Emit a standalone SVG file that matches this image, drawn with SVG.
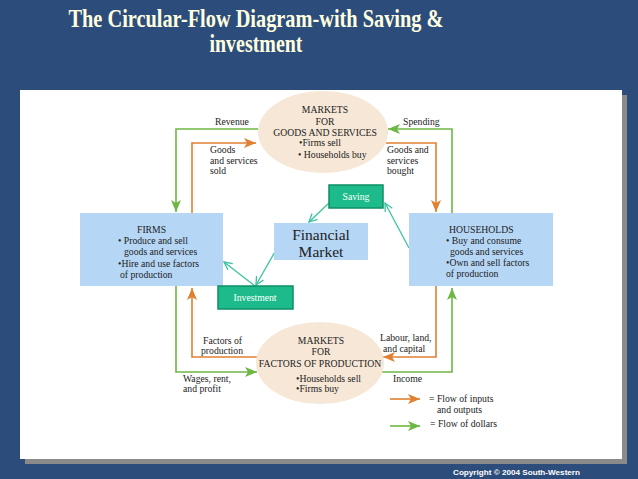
<svg xmlns="http://www.w3.org/2000/svg" width="638" height="479" viewBox="0 0 638 479">
<style>
.t{font-family:"Liberation Serif","Times New Roman",serif;font-size:9.7px;fill:#222}
.c{text-anchor:middle}
.w{fill:#fff}
.or{stroke:#E08030;stroke-width:1.6;fill:none}
.gr{stroke:#6DB743;stroke-width:1.6;fill:none}
.tl{stroke:#3CC3A0;stroke-width:1.3;fill:none}
.box{fill:#B5D6F5}
.ell{fill:#F6E7D6}
.gb{fill:#1DBB8B;stroke:#0E8F66;stroke-width:1.5}
</style>
<defs>
<marker id="ao" markerUnits="userSpaceOnUse" markerWidth="12" markerHeight="10" viewBox="0 0 12 10" refX="12" refY="5" orient="auto"><path d="M0,0 L12,5 L0,10 L3,5 z" fill="#E08030"/></marker>
<marker id="ag" markerUnits="userSpaceOnUse" markerWidth="12" markerHeight="10" viewBox="0 0 12 10" refX="12" refY="5" orient="auto"><path d="M0,0 L12,5 L0,10 L3,5 z" fill="#6DB743"/></marker>
<marker id="at" markerUnits="userSpaceOnUse" markerWidth="10" markerHeight="10" viewBox="0 0 10 10" refX="9" refY="5" orient="auto"><path d="M1,1 L9,5 L1,9" fill="none" stroke="#3CC3A0" stroke-width="1.3"/></marker>
</defs>
<rect width="638" height="479" fill="#2C4D7B"/>
<g id="title" font-family="'Liberation Serif','Times New Roman',serif" font-weight="bold" font-size="25" fill="#FFFFE0" text-anchor="middle">
<text x="256" y="27" textLength="375" lengthAdjust="spacingAndGlyphs">The Circular-Flow Diagram-with Saving &amp;</text>
<text x="256" y="52" textLength="93" lengthAdjust="spacingAndGlyphs">investment</text>
</g>
<rect x="25" y="95" width="602" height="369" fill="#8A8A8A"/>
<rect x="20" y="90" width="602" height="369" fill="#fff"/>

<g id="connectors">
<polyline class="gr" points="258,129 176,129 176,212" marker-end="url(#ag)"/>
<polyline class="or" points="192,213 192,143 256,143" marker-end="url(#ao)"/>
<polyline class="gr" points="452,213 452,129 388,129" marker-end="url(#ag)"/>
<polyline class="or" points="386,143 436,143 436,212" marker-end="url(#ao)"/>
<polyline class="or" points="258,357 192,357 192,288" marker-end="url(#ao)"/>
<polyline class="gr" points="176,286 176,372 257,372" marker-end="url(#ag)"/>
<polyline class="or" points="436,286 436,357 383,357" marker-end="url(#ao)"/>
<polyline class="gr" points="382,372 452,372 452,288" marker-end="url(#ag)"/>
<line class="tl" x1="329" y1="203" x2="309" y2="222" marker-end="url(#at)"/>
<line class="tl" x1="409" y1="248" x2="385" y2="203" marker-end="url(#at)"/>
<line class="tl" x1="276" y1="250" x2="256" y2="285" marker-end="url(#at)"/>
<line class="tl" x1="255" y1="286" x2="224" y2="262" marker-end="url(#at)"/>
<line class="or" x1="390" y1="399" x2="420" y2="399" marker-end="url(#ao)"/>
<line class="gr" x1="390" y1="426" x2="420" y2="426" marker-end="url(#ag)"/>
</g>

<g id="goods-market">
<ellipse class="ell" cx="323" cy="132" rx="65" ry="41"/>
<text class="t c" x="325" y="113">MARKETS</text>
<text class="t c" x="325" y="125">FOR</text>
<text class="t c" x="325" y="136">GOODS AND SERVICES</text>
<text class="t" x="299" y="146">•Firms sell</text>
<text class="t" x="298" y="158">• Households buy</text>
</g>

<g id="factor-market">
<ellipse class="ell" cx="320" cy="363" rx="64" ry="41"/>
<text class="t c" x="321" y="344">MARKETS</text>
<text class="t c" x="321" y="355">FOR</text>
<text class="t c" x="320" y="367">FACTORS OF PRODUCTION</text>
<text class="t" x="296" y="382">•Households sell</text>
<text class="t" x="296" y="392">•Firms buy</text>
</g>

<g id="firms">
<rect class="box" x="80" y="213" width="143" height="73"/>
<text class="t" x="137" y="233">FIRMS</text>
<text class="t" x="118" y="244">• Produce and sell</text>
<text class="t" x="124" y="255">goods and services</text>
<text class="t" x="118" y="267">•Hire and use factors</text>
<text class="t" x="120" y="278">of production</text>
</g>

<g id="households">
<rect class="box" x="409" y="213" width="144" height="73"/>
<text class="t" x="449" y="233">HOUSEHOLDS</text>
<text class="t" x="446" y="244">• Buy and consume</text>
<text class="t" x="450" y="255">goods and services</text>
<text class="t" x="446" y="266">•Own and sell factors</text>
<text class="t" x="446" y="277">of production</text>
</g>

<g id="financial-market">
<rect class="box" x="274" y="223" width="94" height="37"/>
<text class="t c" x="321" y="240" style="font-size:15.5px">Financial</text>
<text class="t c" x="321" y="257" style="font-size:15.5px">Market</text>
</g>

<g id="saving">
<rect class="gb" x="329" y="185" width="54" height="23"/>
<text class="t c w" x="356" y="200">Saving</text>
</g>

<g id="investment">
<rect class="gb" x="218" y="286" width="75" height="23"/>
<text class="t c w" x="255" y="301">Investment</text>
</g>

<g id="labels">
<text class="t" x="215" y="125">Revenue</text>
<text class="t" x="210" y="153">Goods</text>
<text class="t" x="210" y="164">and services</text>
<text class="t" x="210" y="174">sold</text>
<text class="t" x="403" y="125">Spending</text>
<text class="t" x="387" y="153">Goods and</text>
<text class="t" x="387" y="164">services</text>
<text class="t" x="387" y="174">bought</text>
<text class="t" x="203" y="344">Factors of</text>
<text class="t" x="201" y="354">production</text>
<text class="t" x="183" y="382">Wages, rent,</text>
<text class="t" x="183" y="392">and profit</text>
<text class="t" x="380" y="341">Labour, land,</text>
<text class="t" x="383" y="352">and capital</text>
<text class="t" x="393" y="382">Income</text>
<text class="t" x="429" y="402">= Flow of inputs</text>
<text class="t" x="437" y="413">and outputs</text>
<text class="t" x="430" y="427">= Flow of dollars</text>
</g>
<text x="453" y="475" font-family="'Liberation Sans',Arial,sans-serif" font-size="7" font-weight="bold" fill="#fff" textLength="127" lengthAdjust="spacingAndGlyphs">Copyright © 2004 South-Western</text>
</svg>
